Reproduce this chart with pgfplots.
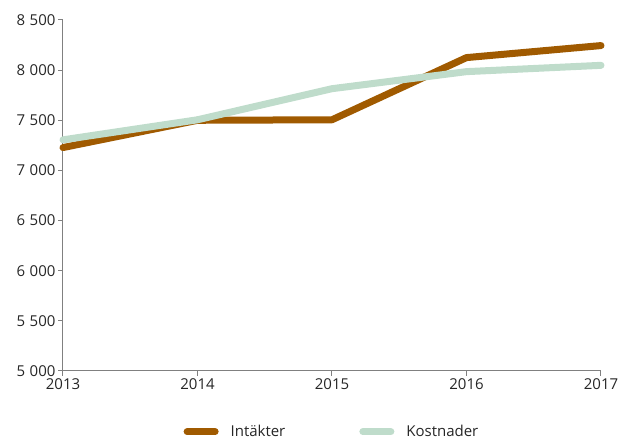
\documentclass[border=0pt]{standalone}
\usepackage{pgfplots}
\pgfplotsset{compat=1.18}
\usepackage{fontspec}
\setmainfont{Open Sans}
\definecolor{brun}{RGB}{160,90,0}
\definecolor{gron}{RGB}{191,220,203}
\definecolor{axgray}{RGB}{128,128,128}
\begin{document}
\begin{tikzpicture}
\useasboundingbox (-63pt,-70pt) rectangle (556pt,371pt);
\begin{axis}[
  at={(0pt,0pt)}, anchor=south west,
  scale only axis, width=538pt, height=351pt,
  xmin=2013, xmax=2017, ymin=5000, ymax=8500,
  xtick={2013,2014,2015,2016,2017},
  ytick={5000,5500,6000,6500,7000,7500,8000,8500},
  axis lines*=left,
  axis line style={axgray, line width=1pt, -},
  tick style={axgray, line width=1pt},
  tick align=outside,
  major tick length=5pt,
  /pgf/number format/assume math mode=true,
  x tick label style={/pgf/number format/1000 sep={}},
  y tick label style={/pgf/number format/1000 sep={\hspace{4.5pt}}, xshift=1pt},
  tick label style={font=\fontsize{15}{17}\selectfont, text=black!85},
  xticklabel style={yshift=1pt},
  clip=false,
  legend columns=2,
  legend style={at={(0.5,-0.173)}, anchor=center, draw=none, fill=none,
    font=\fontsize{15}{17}\selectfont, text=black!85,
    /tikz/every odd column/.append style={column sep=10pt},
    /tikz/every even column/.append style={column sep=72pt}},
  legend image code/.code={\draw[#1, line cap=round] (0pt,0pt) -- (28pt,0pt);},
]
\addplot[brun, line width=7pt, line cap=round, line join=round] coordinates {
  (2013,7228) (2014,7500) (2015,7505) (2016,8125) (2017,8245)};
\addlegendentry{Intäkter}
\addplot[gron, line width=7pt, line cap=round, line join=round] coordinates {
  (2013,7305) (2014,7505) (2015,7815) (2016,7985) (2017,8048)};
\addlegendentry{Kostnader}
\end{axis}
\end{tikzpicture}
\end{document}
